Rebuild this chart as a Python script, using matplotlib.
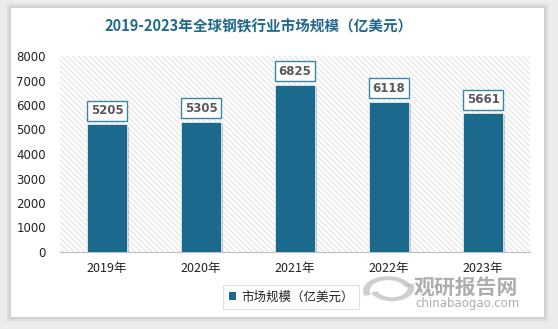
import matplotlib
matplotlib.use("Agg")
import matplotlib.pyplot as plt
from matplotlib.patches import Rectangle, Wedge
import matplotlib.patheffects as pe

plt.rcParams['font.family'] = ['Noto Sans CJK SC', 'DejaVu Sans']
plt.rcParams['hatch.linewidth'] = 0.8

categories = ['2019年', '2020年', '2021年', '2022年', '2023年']
values = [5205, 5305, 6825, 6118, 5661]
yticks = [0, 1000, 2000, 3000, 4000, 5000, 6000, 7000, 8000]
title = '2019-2023年全球钢铁行业市场规模（亿美元）'
legend_label = '市场规模（亿美元）'

W, H = 558, 329
fig = plt.figure(figsize=(W/100, H/100), dpi=100)
fig.patch.set_facecolor('#ececec')

# card with soft shadow
for i in range(5):
    fig.patches.append(Rectangle(((11 - 5 + i)/W, (H - 317 - 5 + i)/H), (533 + 10 - 2*i)/W, (309 + 10 - 2*i)/H,
                                 transform=fig.transFigure, facecolor='black', alpha=0.025, edgecolor='none', zorder=0))
fig.patches.append(Rectangle((11/W, (H-317)/H), 533/W, 309/H, transform=fig.transFigure,
                             facecolor='white', edgecolor='none', zorder=1))

ax = fig.add_axes([60/W, (H-252)/H, 470/W, 196/H])
ax.set_zorder(2)
ax.set_facecolor('none')
# hatched plot area
ax.add_patch(Rectangle((0, 0), 1, 1, transform=ax.transAxes, facecolor='white',
                       edgecolor='#e3e3e3', hatch='\\\\\\\\\\\\', linewidth=0, zorder=0))

x = list(range(len(categories)))
bar_color = '#1b6a8d'
bars = ax.bar(x, values, width=0.42, color=bar_color, zorder=3,
              edgecolor='#dfeaf0', linewidth=0.6)
for b in bars:
    b.set_path_effects([pe.SimplePatchShadow(offset=(1.5, -1.5), shadow_rgbFace='#777777', alpha=0.35), pe.Normal()])

for xi, v in zip(x, values):
    ax.text(xi, v + 560, f'{v}', ha='center', va='center', fontsize=8.5, color='#595959',
            fontweight='bold', family=['DejaVu Sans'], zorder=5,
            bbox=dict(boxstyle='square,pad=0.3', facecolor='white', edgecolor='#3a86a6', linewidth=1))

ax.set_xlim(-0.5, len(categories) - 0.5)
ax.set_ylim(0, 8000)
ax.set_yticks(yticks)
ax.set_yticklabels([str(t) for t in yticks], fontsize=8.5, color='#222222', family=['DejaVu Sans'])
ax.set_xticks(x)
ax.set_xticklabels(categories, fontsize=9, color='#222222')
ax.tick_params(axis='both', length=0)
ax.tick_params(axis='x', pad=7)
ax.tick_params(axis='y', pad=10)
for s in ['top', 'right', 'left']:
    ax.spines[s].set_visible(False)
ax.spines['bottom'].set_color('#bfbfbf')

fig.text(0.5*(107+410)/W, (H-26)/H, title, ha='center', va='center', fontsize=10.5,
         fontweight='bold', color='#1f6a8c')

# legend
leg = ax.legend(bars[:1], [legend_label], loc='center', bbox_to_anchor=(291/W, (H-297)/H),
                bbox_transform=fig.transFigure, frameon=True, fontsize=9, handlelength=0.6,
                handleheight=0.6, handletextpad=0.4, borderpad=0.45, fancybox=False)
leg.get_frame().set_edgecolor('#d9d9d9')
leg.get_frame().set_linewidth(0.8)
for t in leg.get_texts():
    t.set_color('#222222')
for h in leg.legend_handles:
    h.set_path_effects([])
    h.set_edgecolor('none')

# watermark
fig.text(414/W, (H-287)/H, '观研报告网', ha='left', va='center', fontsize=15, fontweight='bold',
         color='#999999', alpha=0.8, zorder=6)
fig.text(520/W, (H-303)/H, 'chinabaogao.com', ha='right', va='center', fontsize=8.5,
         color='#999999', alpha=0.8, family=['DejaVu Sans'], zorder=6)
fig.patches.append(Wedge((388/W, (H-291)/H), 0.045, 20, 200, width=0.012, transform=fig.transFigure,
                         facecolor='#b0b0b0', alpha=0.6, edgecolor='none', zorder=6))
fig.patches.append(Wedge((392/W, (H-288)/H), 0.04, 200, 380, width=0.012, transform=fig.transFigure,
                         facecolor='#b0b0b0', alpha=0.6, edgecolor='none', zorder=6))

fig.savefig('out.png', dpi=100, facecolor=fig.get_facecolor())
